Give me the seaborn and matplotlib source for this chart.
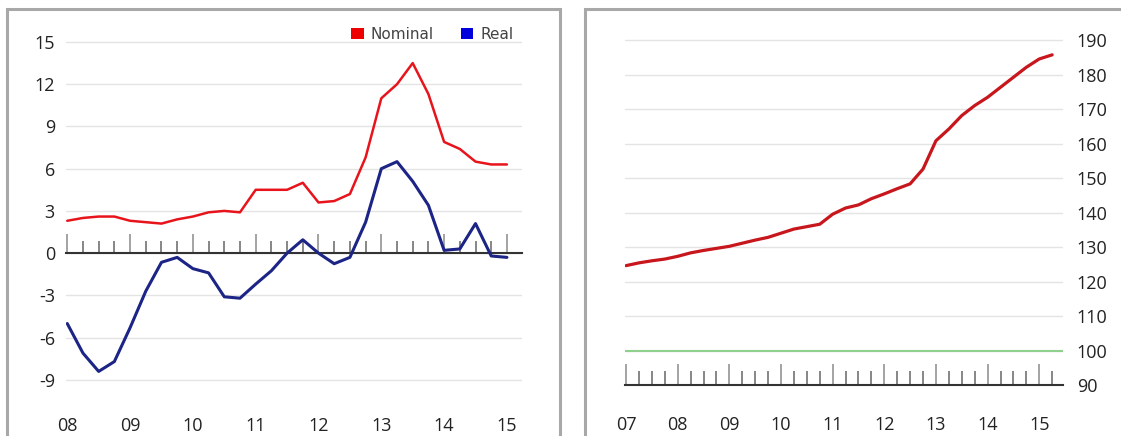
import numpy as np
import pandas as pd
import matplotlib
matplotlib.use("Agg")
import matplotlib.pyplot as plt
import seaborn as sns
from matplotlib.patches import Rectangle, Patch
from matplotlib.ticker import MultipleLocator, FixedLocator
from matplotlib.font_manager import FontProperties

# ---------------- data ----------------
left_start, left_end = "2008Q1", "2015Q1"
nominal = [2.3, 2.5, 2.6, 2.6, 2.3, 2.2, 2.1, 2.4, 2.6, 2.9, 3.0, 2.9,
           4.5, 4.5, 4.5, 5.0, 3.6, 3.7, 4.2, 6.8, 11.0, 12.0, 13.5, 11.3,
           7.9, 7.4, 6.5, 6.3, 6.3]
real = [-5.0, -7.1, -8.4, -7.7, -5.3, -2.7, -0.65, -0.3, -1.1, -1.4, -3.1, -3.2,
        -2.2, -1.25, 0.0, 0.95, 0.0, -0.75, -0.3, 2.2, 6.0, 6.5, 5.1, 3.4,
        0.2, 0.3, 2.1, -0.2, -0.3]
left_yticks = [-9, -6, -3, 0, 3, 6, 9, 12, 15]
left_years = [2008, 2009, 2010, 2011, 2012, 2013, 2014, 2015]
left_year_labels = ["08", "09", "10", "11", "12", "13", "14", "15"]
series_names = ["Nominal", "Real"]

right_start, right_end = "2007Q1", "2015Q2"
index_values = [124.6, 125.4, 126.0, 126.5, 127.3, 128.3, 129.0, 129.6,
                130.2, 131.1, 132.0, 132.8, 134.0, 135.2, 135.9, 136.6,
                139.5, 141.3, 142.2, 144.0, 145.4, 146.9, 148.3, 152.6,
                160.8, 164.2, 168.1, 171.0, 173.4, 176.3, 179.2, 182.1,
                184.5, 185.7]
right_yticks = [90, 100, 110, 120, 130, 140, 150, 160, 170, 180, 190]
right_years = [2007, 2008, 2009, 2010, 2011, 2012, 2013, 2014, 2015]
right_year_labels = ["07", "08", "09", "10", "11", "12", "13", "14", "15"]
baseline = 100


def quarter_positions(start, end):
    p = pd.period_range(start, end, freq="Q")
    return p.year + (p.quarter - 1) / 4.0


xl = quarter_positions(left_start, left_end)
df_left = pd.DataFrame({
    "t": np.concatenate([xl, xl]),
    "value": nominal + real,
    "series": [series_names[0]] * len(nominal) + [series_names[1]] * len(real),
})
xr = quarter_positions(right_start, right_end)
df_right = pd.DataFrame({"t": xr, "value": index_values})

# ---------------- style ----------------
sns.set_theme(style="white")
plt.rcParams["font.family"] = ["Open Sans", "DejaVu Sans"]

W, H = 1121, 436
fig = plt.figure(figsize=(W / 100, H / 100), dpi=100)

RED = "#e8141c"
BLUE = "#1c2486"
GRID = "#e4e4e4"
TICKC = "#666666"
AXISC = "#333333"
LABELC = "#222222"

# ---------------- left panel ----------------
axL = fig.add_axes([66 / W, 1 - 400 / H, (522 - 66) / W, 370 / H])
sns.lineplot(data=df_left, x="t", y="value", hue="series", size="series",
             palette={series_names[0]: RED, series_names[1]: BLUE},
             sizes={series_names[0]: 1.8, series_names[1]: 2.2},
             legend=False, ax=axL)
axL.set_xlim(2008 - 0.02, 2015.24)
axL.set_ylim(-10.43, 15.85)
axL.set_xlabel("")
axL.set_ylabel("")
axL.set_yticks(left_yticks)
axL.set_yticklabels([str(v) for v in left_yticks])
axL.yaxis.grid(True, color=GRID, linewidth=1.0)
axL.set_axisbelow(True)
for s in ["left", "right", "top"]:
    axL.spines[s].set_visible(False)
axL.spines["bottom"].set_position(("data", 0))
axL.spines["bottom"].set_color(AXISC)
axL.spines["bottom"].set_linewidth(1.5)
axL.spines["bottom"].set_zorder(1.5)
axL.xaxis.set_major_locator(FixedLocator(left_years))
axL.xaxis.set_minor_locator(MultipleLocator(0.25))
axL.tick_params(axis="x", which="major", direction="in", length=14, width=1.1,
                color="#8a8a8a", labelbottom=False, bottom=True)
axL.tick_params(axis="x", which="minor", direction="in", length=9, width=1.1,
                color=TICKC, bottom=True)
axL.tick_params(axis="y", length=0, pad=8, labelsize=13, labelcolor=LABELC)
secL = axL.secondary_xaxis("bottom")
secL.set_xticks(left_years)
secL.set_xticklabels(left_year_labels)
secL.tick_params(length=0, pad=12, labelsize=13, labelcolor=LABELC)
secL.spines["bottom"].set_visible(False)

handles = [Patch(facecolor="#ee0000", edgecolor="none", label=series_names[0]),
           Patch(facecolor="#0000dd", edgecolor="none", label=series_names[1])]
fig.legend(handles=handles, loc="upper right", bbox_to_anchor=(527 / W, 1 - 13 / H),
           ncol=2, frameon=False, handlelength=0.8, handleheight=0.8,
           handletextpad=0.45, columnspacing=1.8,
           prop=FontProperties(family="DejaVu Sans", size=11), labelcolor="#444444")

# ---------------- right panel ----------------
axR = fig.add_axes([625 / W, 1 - 385 / H, (1063 - 625) / W, 355 / H])
sns.lineplot(data=df_right, x="t", y="value", color="#c8161d", linewidth=2.3, ax=axR)
axR.axhline(baseline, color="#8fd08f", linewidth=1.5, zorder=1.8)
axR.set_xlim(2007 - 0.02, 2015.46)
axR.set_ylim(90, 192.9)
axR.set_xlabel("")
axR.set_ylabel("")
axR.set_yticks(right_yticks)
axR.set_yticklabels([str(v) for v in right_yticks])
axR.yaxis.tick_right()
axR.yaxis.grid(True, color=GRID, linewidth=1.0)
axR.set_axisbelow(True)
for s in ["left", "right", "top"]:
    axR.spines[s].set_visible(False)
axR.spines["bottom"].set_color(AXISC)
axR.spines["bottom"].set_linewidth(1.5)
axR.xaxis.set_major_locator(FixedLocator(right_years))
axR.xaxis.set_minor_locator(MultipleLocator(0.25))
axR.set_xticklabels(right_year_labels)
axR.tick_params(axis="x", which="major", direction="in", length=15, width=1.1,
                color="#8a8a8a", pad=22, labelsize=13, labelcolor=LABELC, bottom=True)
axR.tick_params(axis="x", which="minor", direction="in", length=10, width=1.1,
                color=TICKC, bottom=True)
axR.tick_params(axis="y", length=0, pad=10, labelsize=13, labelcolor=LABELC,
                right=False, left=False)

# ---------------- panel frames ----------------
fig.patches.append(Rectangle((7 / W, -0.1), (560 - 7) / W, 1 - 9 / H + 0.1,
                             transform=fig.transFigure, fill=False,
                             edgecolor="#a8a8a8", linewidth=2.2))
fig.patches.append(Rectangle((585 / W, -0.1), 0.6, 1 - 9 / H + 0.1,
                             transform=fig.transFigure, fill=False,
                             edgecolor="#a8a8a8", linewidth=2.2))

fig.savefig("out.png", dpi=100)
